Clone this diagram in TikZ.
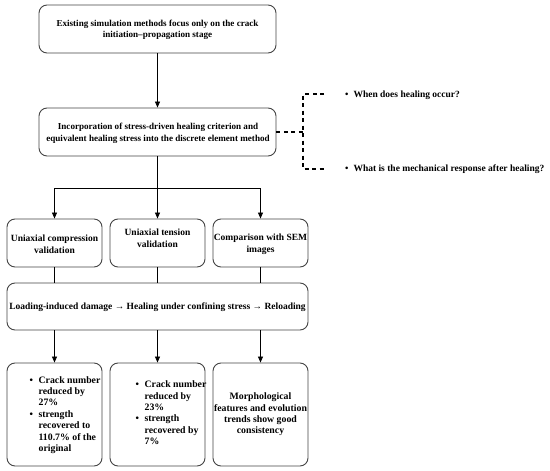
\documentclass[tikz,border=0pt]{standalone}
\usepackage{fontspec}
\setmainfont{Liberation Serif}
\usetikzlibrary{arrows.meta}
\definecolor{boxline}{HTML}{444444}
\begin{document}
\begin{tikzpicture}[x=1pt,y=-1pt,
  box/.style={draw=boxline, line width=0.9pt, rounded corners=8pt, inner sep=0pt, fill=white},
  txt/.style={font=\fontsize{9.5}{11.6}\selectfont\bfseries, align=center, inner sep=0pt},
  txts/.style={font=\fontsize{9.1}{11.6}\selectfont\bfseries, align=center, inner sep=0pt},
  txtb/.style={font=\fontsize{9.8}{11.4}\selectfont\bfseries, align=left, inner sep=0pt},
  arr/.style={line width=0.8pt, -{Triangle[length=6pt,width=5pt]}},
  ln/.style={line width=0.8pt},
  dsh/.style={line width=1.2pt, dash pattern=on 4pt off 3.5pt}]
\useasboundingbox (0,0) rectangle (550,471);
% top boxes
\node[box, minimum width=237pt, minimum height=48pt] (b1) at (157.5,29) {};
\node[txts] (t1) at (157.5,30) {Existing simulation methods focus only on the crack\\initiation--propagation stage};
\node[box, minimum width=237pt, minimum height=48pt] (b2) at (157.5,132) {};
\node[txts] (t2) at (158,133.5) {Incorporation of stress-driven healing criterion and\\equivalent healing stress into the discrete element method};
\draw[arr] (b1.south) -- (b2.north);
% dashed bracket
\coordinate (dm) at (303,132);
\coordinate (dt) at (303,94);
\coordinate (db) at (303,169);
\coordinate (dte) at (324,94);
\coordinate (dbe) at (324,169);
\draw[dsh] (b2.east) -- (dm);
\draw[dsh] (dte) -- (dt) -- (db) -- (dbe);
\node[txt, anchor=west] (q1) at (345,95) {\textbullet\hspace{5pt}When does healing occur?};
\node[txt, anchor=west] (q2) at (345,169) {\textbullet\hspace{5pt}What is the mechanical response after healing?};
% row 3
\node[box, minimum width=95pt, minimum height=48pt] (a) at (54.5,243) {};
\node[txt] (ta) at (54.5,244) {Uniaxial compression\\validation};
\node[box, minimum width=95pt, minimum height=48pt] (b) at (157.5,243) {};
\node[txt] (tb) at (157.5,238) {Uniaxial tension\\validation};
\node[box, minimum width=95pt, minimum height=48pt] (c) at (260.5,243) {};
\node[txt] (tc) at (260.5,244) {Comparison with SEM\\images};
\coordinate (split) at (157.5,188);
\coordinate (sl) at (54.5,188);
\coordinate (sr) at (260.5,188);
\draw[ln] (b2.south) -- (split);
\draw[ln] (sl) -- (sr);
\draw[arr] (sl) -- (a.north);
\draw[arr] (split) -- (b.north);
\draw[arr] (sr) -- (c.north);
% loading box
\node[box, minimum width=301pt, minimum height=47pt] (ld) at (157.5,306.5) {};
\node[txt] (tld) at (157.5,307) {Loading-induced damage → Healing under confining stress → Reloading};
\draw[ln] (a.south) -- (a.south |- ld.north);
\draw[ln] (b.south) -- (b.south |- ld.north);
\draw[ln] (c.south) -- (c.south |- ld.north);
% row 5
\node[box, minimum width=95pt, minimum height=103pt] (d) at (54.5,414.5) {};
\node[box, minimum width=95pt, minimum height=103pt] (e) at (157.5,414.5) {};
\node[box, minimum width=95pt, minimum height=103pt] (f) at (260.5,414.5) {};
\draw[arr] (ld.south -| a.south) -- (d.north);
\draw[arr] (ld.south -| b.south) -- (e.north);
\draw[arr] (ld.south -| c.south) -- (f.north);
\node[txtb, anchor=west] (td) at (29.5,415) {\renewcommand\arraystretch{1}\begin{tabular}{@{}l@{\hspace{5.5pt}}l@{}}
\textbullet & Crack number\\ & reduced by\\ & 27\%\\
\textbullet & strength\\ & recovered to\\ & 110.7\% of the\\ & original\end{tabular}};
\node[txtb, anchor=west] (te) at (135.5,414) {\renewcommand\arraystretch{1}\begin{tabular}{@{}l@{\hspace{5.5pt}}l@{}}
\textbullet & Crack number\\ & reduced by\\ & 23\%\\
\textbullet & strength\\ & recovered by\\ & 7\%\end{tabular}};
\node[txtb, align=center] (tf) at (260.5,414.5) {Morphological\\features and evolution\\trends show good\\consistency};
\end{tikzpicture}
\end{document}
